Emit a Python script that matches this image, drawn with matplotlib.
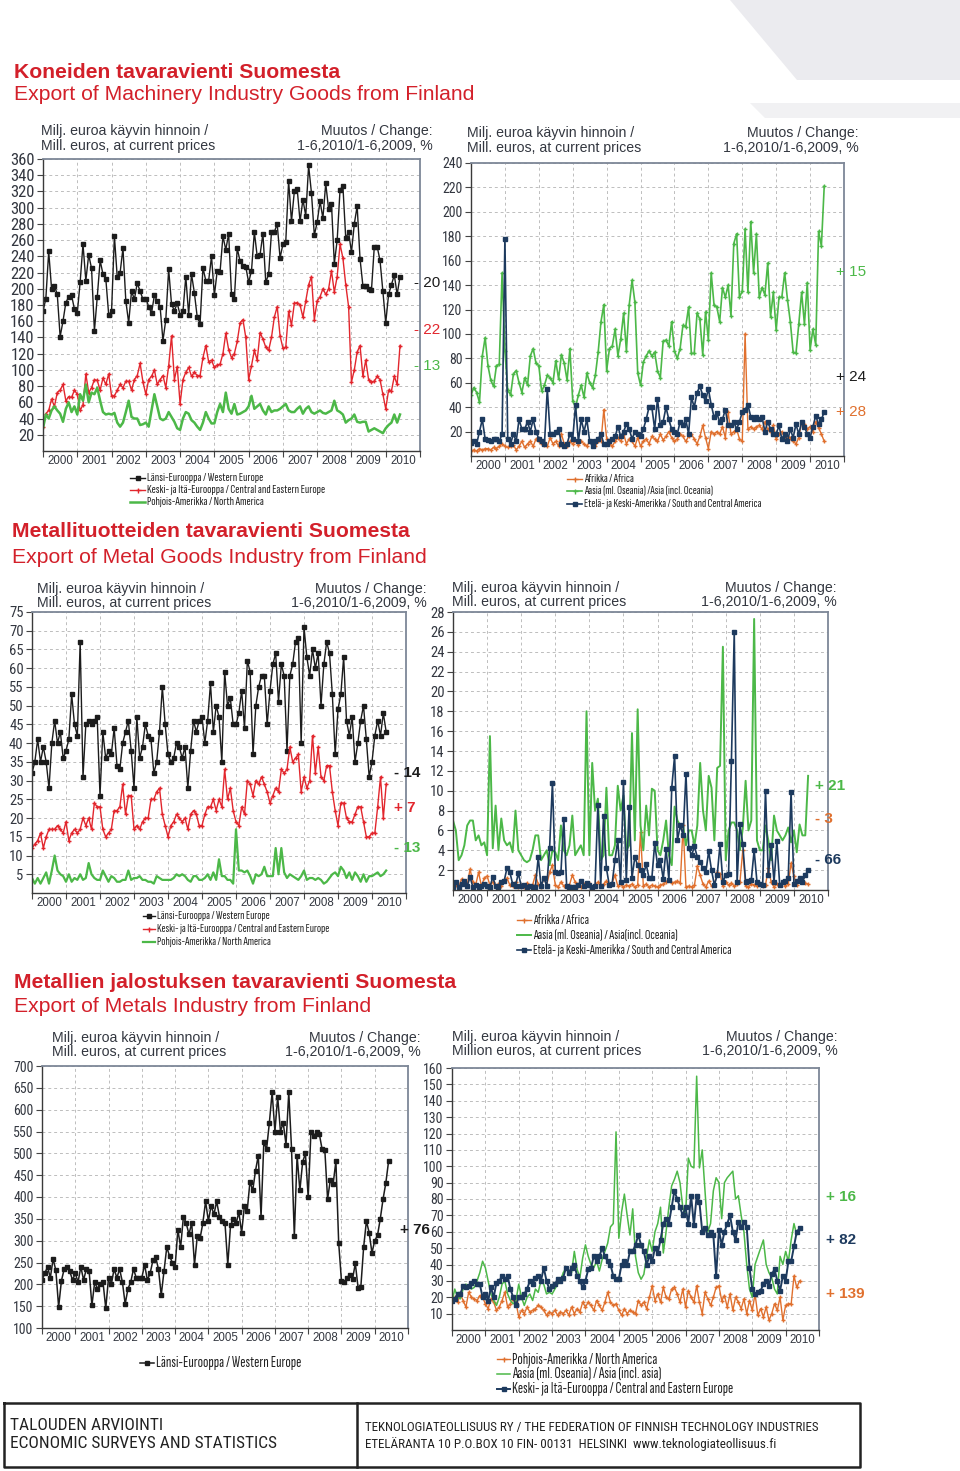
import matplotlib
matplotlib.use('Agg')
import matplotlib.pyplot as plt
import numpy as np

# Monthly exports Jan 2000 - Jun 2010, million euros
# --- Machinery industry ---
mach_we = [172, 188, 246, 200, 204, 193, 141, 160, 183, 190, 192, 175,
           170, 208, 255, 210, 242, 225, 148, 190, 235, 218, 212, 168,
           172, 265, 214, 220, 250, 185, 158, 197, 187, 207, 197, 187,
           188, 178, 170, 192, 185, 178, 136, 162, 224, 181, 173, 182,
           168, 172, 215, 168, 218, 195, 165, 157, 226, 210, 210, 240,
           192, 222, 221, 265, 248, 268, 193, 188, 250, 234, 228, 227,
           208, 222, 270, 240, 242, 268, 208, 218, 270, 270, 280, 238,
           255, 258, 333, 283, 320, 323, 283, 310, 290, 352, 318, 266,
           282, 308, 287, 330, 298, 305, 231, 260, 322, 327, 262, 270,
           245, 280, 302, 237, 204, 204, 200, 198, 252, 252, 235, 197,
           158, 193, 205, 217, 193, 215]
mach_cee = [30, 46, 50, 64, 55, 72, 75, 82, 62, 67, 66, 75,
            70, 50, 57, 95, 72, 78, 88, 87, 75, 90, 82, 95,
            68, 68, 75, 82, 78, 86, 86, 75, 88, 93, 108, 85,
            70, 88, 92, 100, 82, 88, 93, 78, 105, 142, 88, 104,
            58, 88, 97, 103, 92, 97, 93, 93, 115, 130, 110, 112,
            103, 106, 107, 120, 145, 125, 115, 120, 135, 158, 162, 140,
            88, 105, 124, 112, 146, 138, 128, 124, 140, 165, 178, 142,
            127, 128, 172, 155, 182, 183, 180, 165, 185, 205, 215, 162,
            185, 190, 200, 193, 200, 222, 196, 215, 255, 238, 205, 178,
            85, 100, 122, 130, 92, 112, 88, 85, 86, 92, 88, 70,
            52, 75, 74, 92, 82, 130]
mach_na = [28, 45, 40, 50, 55, 50, 46, 36, 52, 60, 48, 55,
           45, 70, 62, 82, 60, 72, 70, 78, 62, 48, 45, 46,
           45, 47, 35, 30, 35, 48, 62, 42, 40, 40, 32, 33,
           35, 30, 50, 70, 55, 40, 38, 40, 48, 42, 36, 28,
           26, 40, 48, 46, 38, 35, 30, 26, 35, 48, 40, 34,
           34, 48, 58, 48, 72, 52, 46, 58, 45, 46, 48, 50,
           55, 68, 52, 55, 58, 50, 45, 55, 48, 50, 50, 52,
           55, 58, 50, 48, 48, 52, 55, 46, 52, 55, 48, 46,
           48, 50, 47, 46, 48, 50, 62, 50, 48, 45, 35, 38,
           40, 45, 36, 35, 36, 36, 24, 26, 28, 26, 24, 22,
           28, 32, 35, 45, 35, 45]
mach_af = [4, 5, 4, 6, 5, 6, 6, 5, 7, 6, 8, 10,
           8, 7, 8, 9, 5, 8, 12, 7, 10, 12, 8, 14,
           12, 10, 9, 8, 15, 10, 12, 8, 18, 10, 8, 12,
           10, 12, 9, 12, 10, 8, 12, 10, 8, 12, 12, 38,
           14, 10, 8, 12, 15, 12, 18, 10, 14, 12, 8, 15,
           8, 12, 14, 10, 16, 14, 12, 18, 13, 16, 20, 15,
           12, 14, 18, 16, 12, 16, 18, 14, 10, 16, 25, 15,
           6, 20, 18, 20, 18, 24, 15, 36, 18, 20, 22, 14,
           12, 100, 22, 24, 22, 24, 25, 22, 28, 22, 20, 25,
           14, 18, 20, 15, 16, 15, 12, 10, 15, 28, 26, 22,
           24, 20, 28, 23, 18, 12]
mach_as = [50, 56, 52, 44, 82, 97, 74, 62, 57, 74, 75, 150,
           86, 54, 50, 67, 70, 60, 52, 64, 58, 82, 88, 76,
           74, 53, 58, 66, 64, 60, 78, 63, 83, 76, 62, 88,
           45, 40, 50, 58, 48, 68, 60, 56, 66, 85, 110, 124,
           70, 88, 90, 104, 82, 96, 117, 86, 124, 144, 126, 68,
           58, 77, 82, 86, 82, 85, 70, 64, 94, 95, 90, 110,
           86, 80, 88, 107, 106, 122, 84, 84, 117, 112, 83, 118,
           95, 150, 124, 122, 110, 138, 130, 140, 115, 174, 182, 130,
           135, 186, 134, 192, 150, 182, 130, 138, 132, 158, 114, 134,
           103, 130, 130, 150, 128, 110, 85, 84, 108, 134, 108, 142,
           87, 104, 91, 184, 172, 221]
mach_sa = [11, 12, 10, 20, 30, 14, 13, 12, 14, 14, 12, 18,
           178, 14, 10, 18, 12, 30, 22, 22, 28, 20, 30, 20,
           14, 12, 10, 55, 18, 18, 20, 22, 10, 8, 10, 18,
           14, 42, 12, 30, 20, 30, 12, 8, 12, 14, 18, 10,
           10, 12, 14, 16, 24, 16, 20, 26, 22, 14, 20, 18,
           16, 22, 30, 40, 40, 22, 47, 25, 28, 40, 30, 22,
           20, 18, 28, 25, 30, 18, 48, 40, 52, 57, 50, 45,
           55, 42, 32, 35, 28, 30, 38, 25, 25, 28, 22, 28,
           36, 38, 42, 32, 30, 32, 30, 32, 20, 28, 22, 18,
           18, 25, 14, 18, 12, 22, 15, 26, 18, 28, 24, 18,
           15, 24, 33, 26, 30, 36]

# --- Metal goods industry ---
metg_we = [32, 35, 41, 35, 39, 35, 28, 40, 46, 40, 43, 36,
           38, 41, 53, 45, 42, 67, 31, 45, 46, 45, 46, 47,
           26, 43, 36, 38, 37, 44, 34, 33, 40, 43, 46, 38,
           28, 47, 36, 39, 45, 42, 41, 32, 35, 43, 55, 45,
           37, 35, 36, 40, 39, 36, 39, 28, 38, 46, 43, 46,
           47, 40, 46, 56, 43, 50, 47, 35, 59, 50, 52, 45,
           45, 48, 54, 44, 62, 59, 37, 50, 55, 58, 58, 45,
           54, 61, 64, 51, 61, 58, 38, 58, 61, 67, 68, 40,
           71, 63, 58, 65, 60, 64, 50, 61, 67, 64, 53, 37,
           49, 53, 63, 46, 42, 47, 35, 40, 46, 50, 41, 31,
           35, 42, 46, 42, 48, 43]
metg_cee = [12, 13, 14, 16, 12, 15, 17, 17, 17, 18, 17, 16,
            19, 14, 16, 17, 16, 17, 20, 18, 20, 17, 24, 23,
            23, 17, 15, 16, 17, 22, 22, 23, 29, 21, 26, 26,
            17, 18, 17, 19, 20, 20, 25, 25, 27, 28, 21, 18,
            15, 18, 19, 21, 20, 19, 20, 17, 21, 22, 21, 18,
            18, 21, 23, 23, 25, 22, 25, 23, 33, 25, 28, 22,
            19, 18, 23, 21, 30, 29, 26, 30, 29, 31, 29, 27,
            24, 26, 28, 27, 33, 32, 33, 39, 35, 36, 37, 27,
            31, 28, 30, 42, 32, 39, 31, 30, 34, 34, 27, 22,
            18, 24, 24, 20, 19, 19, 21, 23, 23, 19, 15, 15,
            16, 16, 23, 31, 20, 29]
metg_na = [4, 2.5, 4, 2.5, 4, 5.5, 2.5, 6, 10, 6, 5, 4.5,
           3, 5, 3, 4, 3.5, 5, 3.5, 4, 8, 5, 4, 3.5,
           3.5, 6, 4.5, 3, 4.5, 4, 3, 3, 3.5, 3.5, 6, 3.5,
           4, 4, 4.5, 3.5, 3.5, 3, 3, 2.5, 4.5, 4, 3.5, 3.5,
           3.5, 3.5, 4, 5, 4.5, 5, 4.5, 3.5, 3, 4.5, 4.5, 3.5,
           3.5, 4, 5, 3.5, 5.5, 3.5, 9, 4.5, 4.5, 3.5, 3.5, 2.5,
           17, 6, 6, 5.5, 6, 4.5, 2.5, 5, 4.5, 5, 7, 4.5,
           4.5, 4.5, 12, 5, 12, 5.5, 4, 5, 4.5, 4, 3.5, 4.5,
           6, 3.5, 4, 4, 3.5, 4, 3.5, 2.5, 3, 4, 5, 5.5,
           4.5, 7, 6, 4, 5.5, 3.5, 5.5, 4.5, 3, 5, 3, 4.5,
           4.5, 5, 5.5, 4.5, 5, 6]
metg_af = [0.8, 0.5, 0.3, 1.1, 0.6, 0.5, 2.1, 0.8, 0.5, 1.8, 0.4, 1.2,
           1.4, 0.5, 0.8, 0.3, 0.6, 0.4, 0.9, 1.2, 0.5, 0.4, 0.8, 0.3,
           0.5, 0.3, 0.7, 0.4, 0.5, 1.5, 0.6, 0.3, 1.2, 0.5, 1.8, 2.5,
           0.5, 0.3, 0.8, 0.4, 0.3, 0.5, 1.5, 0.8, 0.4, 0.3, 0.6, 0.5,
           0.7, 0.3, 0.5, 0.8, 0.4, 0.6, 0.9, 0.5, 0.7, 1.5, 0.4, 0.6,
           0.3, 0.5, 0.4, 0.6, 0.3, 0.5, 5.8, 0.4, 0.6, 0.3, 0.5, 0.4,
           0.3, 0.5, 0.6, 0.8, 1.0, 0.7, 0.8, 0.9, 0.7, 6.5, 0.3, 0.4,
           0.3, 0.5, 2.4, 1.5, 0.6, 0.3, 0.9, 0.4, 0.5, 1.8, 1.6, 0.4,
           0.8, 0.5, 0.7, 0.4, 0.6, 0.8, 4.0, 0.4, 0.3, 0.6, 0.5, 0.4,
           0.6, 0.4, 0.5, 2.2, 0.8, 0.3, 0.6, 0.5, 0.8, 0.4, 0.6, 2.7,
           1.4, 0.5, 0.9, 1.2, 0.7, 0.6]
metg_as = [7, 6, 3, 3.5, 4.5, 6.5, 7, 7, 5, 5.5, 4.5, 4.8,
           3.5, 15.5, 4.2, 8.5, 4, 7.2, 5, 4.5, 4.8, 3.8, 8, 4,
           3.5, 3, 2.8, 3, 4, 5.5, 5.5, 3, 3.5, 4, 2.5, 4,
           3.8, 3, 6.5, 4, 3.5, 4.5, 7.5, 3.5, 4, 4.5, 3.5, 18,
           3.5, 12.8, 8, 9.2, 3, 3.5, 10.3, 3.5, 3.5, 4.5, 10.5, 8,
           9.5, 4, 4.5, 15.8, 5, 18.2, 6.5, 4, 8.5, 5.5, 10.2, 10,
           4, 3.5, 5, 7, 3.5, 2.5, 8.4, 7, 6.5, 6.5, 4.5, 6,
           6, 4.5, 6.5, 12.8, 8, 6, 11.5, 10.3, 5, 12.3, 12.5, 24.5,
           3, 6, 6.8, 6.8, 6, 4, 6.2, 11, 6, 7, 27.3, 5,
           4, 4, 6.5, 5, 3, 7.5, 6, 5.5, 5, 5.5, 6.3, 4.8,
           6, 3.8, 6.6, 5.5, 5.5, 11.5]
metg_sa = [0.3, 0.8, 0.3, 0.6, 0.9, 0.4, 1.3, 0.3, 0.5, 0.3, 0.4, 0.6,
           0.4, 0.3, 1.3, 0.4, 0.3, 0.8, 0.9, 2.2, 1.8, 0.6, 0.4, 1.7,
           0.4, 0.5, 0.3, 0.4, 0.3, 0.3, 3.3, 0.4, 1.2, 0.4, 4.2, 10.8,
           1.8, 1.7, 1.8, 7.2, 0.4, 0.3, 0.3, 0.3, 0.5, 0.9, 0.4, 0.7,
           0.5, 0.3, 0.4, 8.6, 0.4, 7.5, 2.2, 0.5, 0.6, 3.0, 5.0, 0.8,
           10.9, 1.0, 8.4, 1.2, 3.3, 2.5, 2.0, 1.5, 2.6, 1.2, 1.2, 4.7,
           2.5, 3.0, 1.1, 4.1, 1.0, 10.3, 13.5, 5.0, 6.5, 5.5, 11.7, 4.2,
           3.5, 4.4, 3.3, 2.8, 2.2, 1.8, 3.9, 2.0, 0.5, 1.5, 4.6, 0.8,
           1.5, 1.6, 13, 26, 0.8, 6.6, 4.6, 0.8, 0.9, 1.0, 4.0, 0.8,
           0.6, 0.5, 10, 1.5, 4.5, 0.8, 4.9, 0.5, 0.8, 0.9, 1.2, 9.9,
           0.6, 0.9, 1.2, 0.8, 1.5, 2.0]

# --- Metals industry ---
mets_we = [210, 225, 240, 215, 258, 232, 148, 208, 235, 240, 230, 210,
           225, 205, 240, 210, 235, 230, 152, 205, 190, 200, 205, 145,
           215, 200, 235, 215, 235, 205, 155, 190, 205, 235, 215, 215,
           215, 245, 210, 225, 255, 262, 235, 175, 230, 285, 265, 250,
           240, 325, 285, 355, 340, 315, 340, 245, 310, 305, 340, 390,
           345, 380, 360, 390, 355, 345, 340, 245, 335, 350, 340, 365,
           318, 380, 368, 435, 415, 460, 495, 355, 525, 510, 570, 640,
           550, 630, 550, 570, 520, 640, 510, 310, 495, 415, 480, 500,
           400, 550, 540, 548, 545, 510, 508, 395, 440, 430, 482, 295,
           208, 205, 215, 222, 212, 248, 192, 195, 285, 345, 318, 272,
           300, 312, 350, 395, 432, 482]
mets_na = [18, 20, 17, 22, 18, 14, 23, 20, 19, 18, 21, 20,
           16, 13, 19, 17, 12, 14, 18, 23, 14, 16, 19, 17,
           8, 12, 10, 14, 11, 12, 13, 15, 14, 12, 9, 11,
           10, 12, 9, 11, 10, 12, 9, 14, 10, 13, 11, 17,
           14, 17, 15, 12, 18, 15, 12, 17, 23, 17, 15, 16,
           12, 9, 13, 10, 12, 11, 10, 18, 15, 17, 13, 20,
           27, 18, 22, 17, 26, 20, 19, 25, 26, 22, 17, 25,
           14, 24, 20, 17, 27, 17, 10, 23, 19, 15, 20, 26,
           27, 18, 21, 14, 22, 12, 20, 17, 13, 19, 10, 18,
           12, 22, 9, 13, 8, 14, 6, 10, 16, 12, 20, 6,
           15, 16, 16, 33, 26, 30]
mets_as = [17, 25, 20, 19, 25, 28, 27, 25, 26, 30, 35, 42,
           38, 30, 22, 18, 15, 20, 28, 30, 22, 18, 16, 18,
           28, 20, 15, 20, 22, 18, 25, 23, 30, 28, 22, 23,
           22, 25, 28, 30, 35, 38, 36, 35, 48, 37, 32, 44,
           52, 45, 40, 38, 42, 36, 43, 48, 53, 63, 65, 121,
           56, 72, 83, 70, 58, 74, 45, 35, 31, 34, 45, 55,
           48, 60, 65, 75, 47, 60, 75, 88, 92, 97, 90, 75,
           70, 105, 100, 99, 155, 99, 110, 85, 60, 65, 85, 93,
           90, 68, 90, 93, 95, 97, 80, 82, 70, 60, 40, 25,
           20, 40, 45, 50, 55, 40, 35, 32, 25, 22, 45, 40,
           48, 42, 55, 65, 58, 62]
mets_cee = [18, 19, 22, 22, 27, 26, 27, 29, 30, 28, 28, 20,
            22, 18, 26, 20, 29, 30, 33, 31, 33, 25, 20, 15,
            20, 20, 22, 25, 30, 28, 32, 33, 30, 38, 30, 25,
            27, 28, 31, 30, 32, 38, 35, 38, 40, 33, 30, 26,
            30, 37, 38, 45, 42, 45, 50, 45, 42, 40, 33, 31,
            31, 40, 42, 40, 48, 48, 52, 58, 52, 48, 40, 45,
            42, 50, 47, 55, 65, 68, 65, 75, 85, 80, 75, 70,
            75, 65, 82, 64, 82, 78, 60, 62, 58, 60, 58, 33,
            61, 52, 60, 65, 70, 60, 55, 66, 63, 66, 63, 38,
            25, 22, 23, 24, 28, 30, 27, 34, 37, 30, 24, 33,
            30, 42, 42, 51, 60, 62]

# Change 1-6/2010 vs 1-6/2009, %
mach_chg_left = ['- 20', '- 22', '- 13']
mach_chg_right = ['+ 15', '+ 24', '+ 28']
metg_chg_left = ['- 14', '+ 7', '- 13']
metg_chg_right = ['+ 21', '- 3', '- 66']
mets_chg_left = ['+ 76']
mets_chg_right = ['+ 16', '+ 82', '+ 139']

years = list(range(2000, 2011))

BLACK = '#1c1c1c'
RED = '#e2262d'
GREEN = '#4cb848'
ORANGE = '#e0702e'
NAVY = '#1d3a5e'
TITLE_RED = '#d3202a'
TXT = '#333740'

REG = ['Liberation Sans', 'DejaVu Sans']
NARROW = ['Roboto Condensed', 'DejaVu Sans']
XNARROW = ['Sofia Sans Extra Condensed', 'Roboto Condensed', 'DejaVu Sans']
plt.rcParams['font.family'] = REG

W, H = 960, 1471
fig = plt.figure(figsize=(W / 100, H / 100), dpi=100)
fig.patch.set_facecolor('white')

# background decoration (grey shapes in the top right corner)
bg = fig.add_axes([0, 0, 1, 1], facecolor='none', zorder=-5)
bg.set_xlim(0, W)
bg.set_ylim(H, 0)
bg.axis('off')
bg.fill([730, 960, 960, 797], [0, 0, 80, 80], color='#ebebef', lw=0)
bg.fill([750, 960, 960, 765], [103, 103, 118, 118], color='#f1f1f3', lw=0)

# overlay in pixel coordinates for legends and footer
ov = fig.add_axes([0, 0, 1, 1], facecolor='none', zorder=5)
ov.set_xlim(0, W)
ov.set_ylim(H, 0)
ov.axis('off')


def fx(x):
    return x / W


def fy(y):
    return 1 - y / H


def make_axes(l, t, r, b):
    return fig.add_axes([l / W, 1 - b / H, (r - l) / W, (b - t) / H])


def style_axes(ax, ymin, ymax, ystep, ysize):
    ax.set_xlim(2000, 2011)
    ax.set_ylim(ymin, ymax)
    ax.set_xticks(range(2000, 2012))
    ax.set_xticklabels([])
    ax.set_xticks([y + 0.5 for y in years], minor=True)
    ax.set_xticklabels([str(y) for y in years], minor=True, fontsize=8.3, color=TXT)
    ax.tick_params(axis='x', which='minor', length=0, pad=3)
    ax.tick_params(axis='x', which='major', length=4, direction='out', color='#444')
    first = ystep if ymin == 0 else ymin
    yt = np.arange(first, ymax + 0.01, ystep)
    ax.set_yticks(yt)
    ax.set_yticklabels(['%d' % v for v in yt])
    ax.tick_params(axis='y', length=4, direction='out', pad=2, color='#444')
    for lab in ax.get_yticklabels():
        lab.set_fontfamily(NARROW)
        lab.set_fontsize(ysize)
        lab.set_color(TXT)
    ax.grid(True, which='major', ls=(0, (3, 3)), color='#bdbdbd', lw=0.7)
    ax.set_axisbelow(True)
    for s in ['left', 'bottom']:
        ax.spines[s].set_color('#3a3a3a')
        ax.spines[s].set_linewidth(1.0)
    for s in ['top', 'right']:
        ax.spines[s].set_color('#7d8797')
        ax.spines[s].set_linewidth(1.3)


def header(left_x, right_x, y1, y2, line2='Mill. euros, at current prices'):
    fig.text(fx(left_x), fy(y1), 'Milj. euroa käyvin hinnoin /', fontsize=10.2,
             color=TXT, va='center', ha='left')
    fig.text(fx(left_x), fy(y2), line2, fontsize=10.2, color=TXT, va='center', ha='left')
    fig.text(fx(right_x), fy(y1), 'Muutos / Change:', fontsize=10.2, color=TXT,
             va='center', ha='right')
    fig.text(fx(right_x), fy(y2), '1-6,2010/1-6,2009, %', fontsize=10.2, color=TXT,
             va='center', ha='right')


def legend_rows(x0, ys, lines, size, hl=14):
    # one row per series: short line sample + label
    for y, ln in zip(ys, lines):
        ov.plot([x0, x0 + hl], [y, y], color=ln.get_color(), lw=ln.get_linewidth())
        if ln.get_marker() not in ('None', None, ''):
            ov.plot([x0 + hl / 2], [y], ls='none', marker=ln.get_marker(),
                    ms=ln.get_markersize() + 0.6, color=ln.get_color())
        ov.text(x0 + hl + 2, y, ln.get_label(), fontsize=size, family=XNARROW,
                color='#222', va='center')


def x_of(series):
    return 2000 + np.arange(len(series)) / 12.0


# Titles
fig.text(fx(14), fy(72), 'Koneiden tavaravienti Suomesta', fontsize=15.2, fontweight='bold',
         color=TITLE_RED, va='center')
fig.text(fx(14), fy(94), 'Export of Machinery Industry Goods from Finland', fontsize=15.2,
         color=TITLE_RED, va='center')
fig.text(fx(12), fy(532), 'Metallituotteiden tavaravienti Suomesta', fontsize=15.2,
         fontweight='bold', color=TITLE_RED, va='center')
fig.text(fx(12), fy(557), 'Export of Metal Goods Industry from Finland', fontsize=15.2,
         color=TITLE_RED, va='center')
fig.text(fx(14), fy(982), 'Metallien jalostuksen tavaravienti Suomesta', fontsize=15.2,
         fontweight='bold', color=TITLE_RED, va='center')
fig.text(fx(14), fy(1007), 'Export of Metals Industry from Finland', fontsize=15.2,
         color=TITLE_RED, va='center')

# Panel 1: machinery, Europe and North America
ax1 = make_axes(43, 159, 420, 451)
style_axes(ax1, 0, 360, 20, 12)
l1 = ax1.plot(x_of(mach_we), mach_we, color=BLACK, lw=1.0, marker='s', ms=2.4,
              label='Länsi-Eurooppa / Western Europe')[0]
l2 = ax1.plot(x_of(mach_cee), mach_cee, color=RED, lw=1.0, marker='+', ms=3,
              label='Keski- ja Itä-Eurooppa / Central and Eastern Europe')[0]
l3 = ax1.plot(x_of(mach_na), mach_na, color=GREEN, lw=1.8,
              label='Pohjois-Amerikka / North America')[0]
header(41, 433, 131, 146)
legend_rows(130, [478, 490, 502], [l1, l2, l3], 9.1, 15)
for txt, col, yy in zip(mach_chg_left, [BLACK, RED, GREEN], [283, 330, 366]):
    fig.text(fx(414), fy(yy), txt, fontsize=11, color=col, va='center')

# Panel 2: machinery, Africa, Asia, South America
ax2 = make_axes(471, 163, 844, 456)
style_axes(ax2, 0, 240, 20, 10)
l1 = ax2.plot(x_of(mach_af), mach_af, color=ORANGE, lw=1.0, marker='+', ms=3,
              label='Afrikka / Africa')[0]
l2 = ax2.plot(x_of(mach_as), mach_as, color=GREEN, lw=1.2, marker='+', ms=3,
              label='Aasia (ml. Oseania) /Asia (incl. Oceania)')[0]
l3 = ax2.plot(x_of(mach_sa), mach_sa, color=NAVY, lw=1.2, marker='s', ms=2.4,
              label='Etelä- ja Keski-Amerikka / South and Central America')[0]
header(467, 859, 133, 148)
legend_rows(567, [479, 491, 504], [l1, l2, l3], 8.9, 15)
for txt, col, yy in zip(mach_chg_right, [GREEN, BLACK, ORANGE], [272, 377, 412]):
    fig.text(fx(836), fy(yy), txt, fontsize=11, color=col, va='center')

# Panel 3: metal goods, Europe and North America
ax3 = make_axes(32, 612, 406, 893)
style_axes(ax3, 0, 75, 5, 10.5)
l1 = ax3.plot(x_of(metg_we), metg_we, color=BLACK, lw=1.0, marker='s', ms=2.4,
              label='Länsi-Eurooppa / Western Europe')[0]
l2 = ax3.plot(x_of(metg_cee), metg_cee, color=RED, lw=1.0, marker='+', ms=3,
              label='Keski- ja Itä-Eurooppa / Central and Eastern Europe')[0]
l3 = ax3.plot(x_of(metg_na), metg_na, color=GREEN, lw=1.6,
              label='Pohjois-Amerikka / North America')[0]
header(37, 427, 589, 603)
legend_rows(143, [916, 929, 942], [l1, l2, l3], 8.9, 12)
for txt, col, yy in zip(metg_chg_left, [BLACK, RED, GREEN], [773, 808, 848]):
    fig.text(fx(394), fy(yy), txt, fontsize=11, fontweight='bold', color=col, va='center')

# Panel 4: metal goods, Africa, Asia, South America
ax4 = make_axes(453, 612, 828, 890)
style_axes(ax4, 0, 28, 2, 10.5)
l1 = ax4.plot(x_of(metg_af), metg_af, color=ORANGE, lw=1.0, marker='+', ms=3,
              label='Afrikka / Africa')[0]
l2 = ax4.plot(x_of(metg_as), metg_as, color=GREEN, lw=1.4,
              label='Aasia (ml. Oseania) / Asia(incl. Oceania)')[0]
l3 = ax4.plot(x_of(metg_sa), metg_sa, color=NAVY, lw=1.2, marker='s', ms=2.4,
              label='Etelä- ja Keski-Amerikka / South and Central America')[0]
header(452, 837, 588, 602)
legend_rows(517, [920, 935, 950], [l1, l2, l3], 9.9, 14)
for txt, col, yy in zip(metg_chg_right, [GREEN, ORANGE, NAVY], [786, 819, 860]):
    fig.text(fx(815), fy(yy), txt, fontsize=11, fontweight='bold', color=col, va='center')

# Panel 5: metals, Western Europe
ax5 = make_axes(42, 1066, 408, 1328)
style_axes(ax5, 100, 700, 50, 10)
l1 = ax5.plot(x_of(mets_we), mets_we, color=BLACK, lw=1.1, marker='s', ms=2.6,
              label='Länsi-Eurooppa / Western Europe')[0]
header(52, 421, 1038, 1052)
legend_rows(140, [1363], [l1], 11.4, 14)
fig.text(fx(400), fy(1230), mets_chg_left[0], fontsize=11, fontweight='bold', color=BLACK,
         va='center')

# Panel 6: metals, North America, Asia, CEE
ax6 = make_axes(452, 1068, 819, 1330)
style_axes(ax6, 0, 160, 10, 10)
l1 = ax6.plot(x_of(mets_na), mets_na, color=ORANGE, lw=1.0, marker='+', ms=3,
              label='Pohjois-Amerikka / North America')[0]
l2 = ax6.plot(x_of(mets_as), mets_as, color=GREEN, lw=1.1,
              label='Aasia (ml. Oseania) / Asia (incl. asia)')[0]
l3 = ax6.plot(x_of(mets_cee), mets_cee, color=NAVY, lw=1.4, marker='s', ms=2.6,
              label='Keski- ja Itä-Eurooppa / Central and Eastern Europe')[0]
header(452, 838, 1037, 1051, line2='Million euros, at current prices')
legend_rows(497, [1359, 1374, 1389], [l1, l2, l3], 11.3, 13)
for txt, col, yy in zip(mets_chg_right, [GREEN, NAVY, ORANGE], [1197, 1240, 1294]):
    fig.text(fx(826), fy(yy), txt, fontsize=11, fontweight='bold', color=col, va='center')

# Footer box
ov.plot([4, 860, 860, 4, 4], [1403, 1403, 1467, 1467, 1403], color='#222', lw=1.8)
ov.plot([357, 357], [1403, 1467], color='#222', lw=1.8)
ov.text(10, 1425, 'TALOUDEN ARVIOINTI', fontsize=12.5, family=NARROW, color='#222',
        va='center')
ov.text(10, 1443, 'ECONOMIC SURVEYS AND STATISTICS', fontsize=12.5, family=NARROW,
        color='#222', va='center')
ov.text(365, 1427, 'TEKNOLOGIATEOLLISUUS RY / THE FEDERATION OF FINNISH TECHNOLOGY INDUSTRIES',
        fontsize=9.4, family=NARROW, color='#222', va='center')
ov.text(365, 1444, 'ETELÄRANTA 10 P.O.BOX 10 FIN- 00131  HELSINKI  www.teknologiateollisuus.fi',
        fontsize=9.4, family=NARROW, color='#222', va='center')

fig.savefig('out.png', dpi=100, facecolor='white')
